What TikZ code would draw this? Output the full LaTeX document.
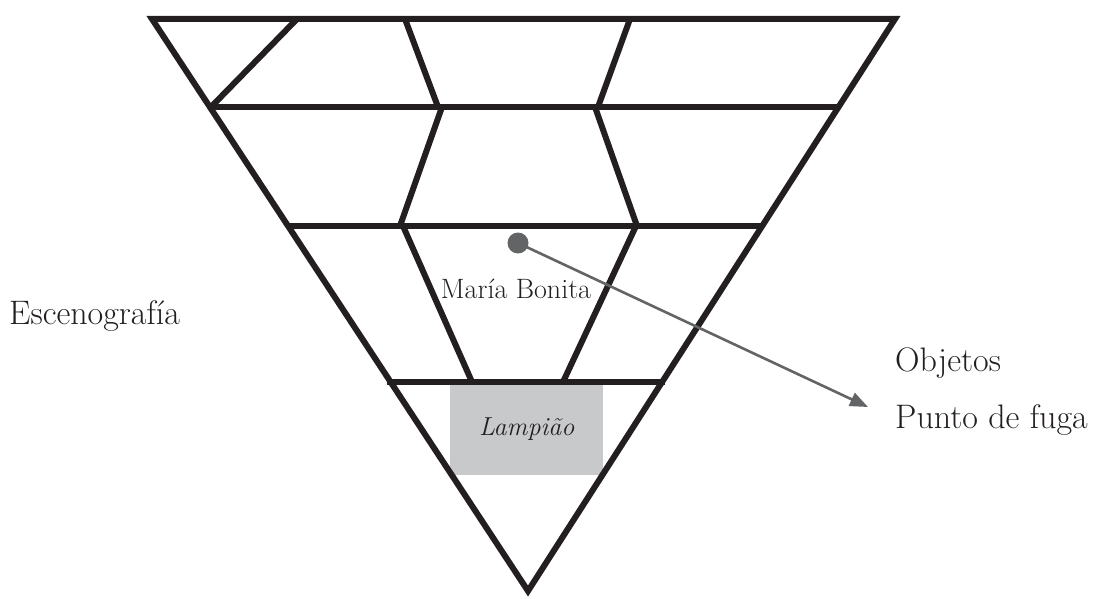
\documentclass[tikz,border=0pt]{standalone}
\usetikzlibrary{arrows.meta}
\definecolor{ink}{HTML}{231F20}
\definecolor{dotgray}{HTML}{636466}
\definecolor{boxgray}{HTML}{C8C9CB}
\begin{document}
\begin{tikzpicture}[x=1pt,y=-1pt,
  gridline/.style={draw=ink,line width=6pt,line join=miter},
  lbl/.style={inner sep=0pt,text=ink,font=\fontsize{34}{40}\selectfont},
  innerlbl/.style={inner sep=0pt,text=ink,font=\fontsize{28}{33}\selectfont},
  pointer/.style={draw=dotgray,line width=2.6pt,-{Triangle[length=18pt,width=14pt]}}]
\useasboundingbox (0,0) rectangle (1104,599);
% triangle corners
\coordinate (TL) at (152,19);
\coordinate (TR) at (895,19);
\coordinate (B) at (528,591);
% grey box
\node[fill=boxgray,minimum width=153pt,minimum height=92pt,inner sep=0pt,anchor=north west] (lamp) at (450,383) {};
\node[inner sep=0pt,text=ink,font=\fontsize{26}{30}\selectfont\itshape] at (lamp.center) {Lampião};
% outer triangle
\draw[gridline] (TL) -- (TR) -- (B) -- cycle;
% horizontal lines
\draw[gridline] (209,107) -- (839,107);
\draw[gridline] (287,226) -- (764,226);
\draw[gridline] (387,382) -- (665,382);
% inner lines row 1
\draw[gridline] (297,19) -- (211,107);
\draw[gridline] (405,19) -- (438,107);
\draw[gridline] (630,19) -- (598,107);
% row 2
\draw[gridline] (442,107) -- (400,226);
\draw[gridline] (595,107) -- (637,226);
% row 3
\draw[gridline] (403,226) -- (472,382);
\draw[gridline] (636,226) -- (563,382);
% dot and arrow
\node[circle,fill=dotgray,minimum size=21pt,inner sep=0pt] (dot) at (518,243) {};
\coordinate (tip) at (868,407);
\draw[pointer] (dot.center) -- (tip);
% labels
\node[innerlbl] (mb) at (516,289) {María Bonita};
\node[lbl,anchor=west] (esc) at (9,316) {Escenografía};
\node[lbl,anchor=west] (obj) at (895,363) {Objetos};
\node[lbl,anchor=west] (pf) at (895,420) {Punto de fuga};
\end{tikzpicture}
\end{document}
